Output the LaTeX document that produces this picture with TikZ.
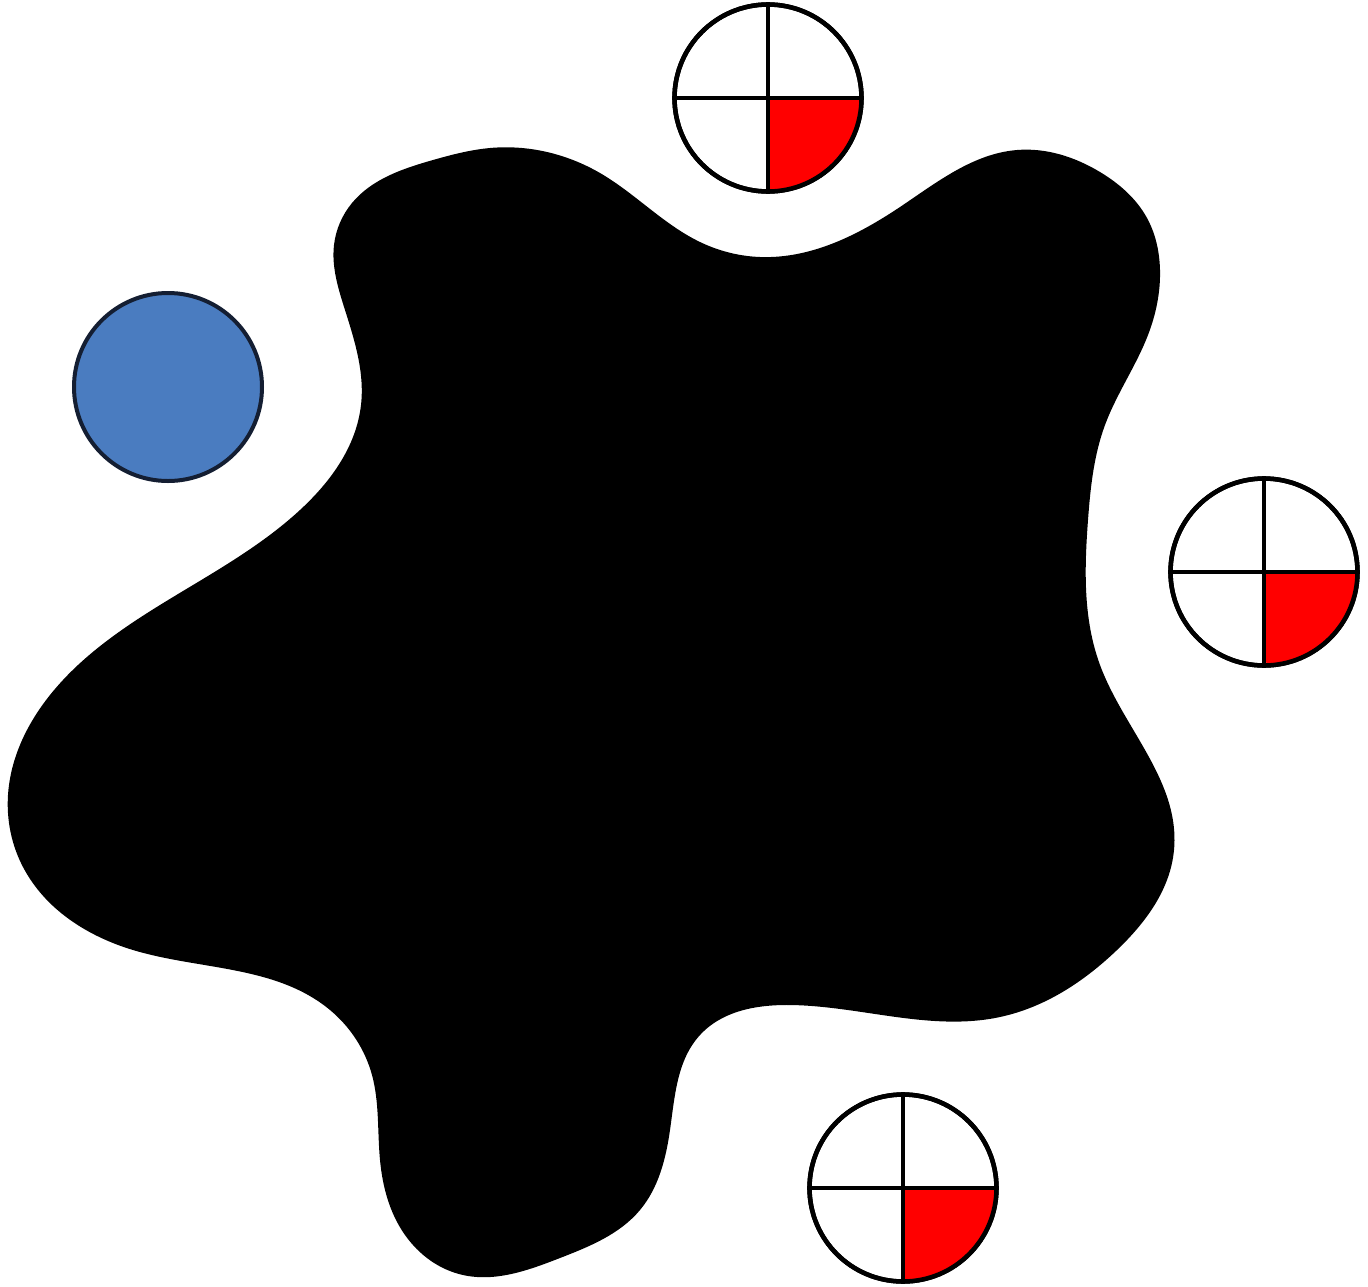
\documentclass[tikz,border=0pt]{standalone}
\usepackage{tikz}
\usetikzlibrary{hobby}
\definecolor{blobblue}{RGB}{74,124,192}
\definecolor{navyline}{RGB}{20,30,50}
\begin{document}
\begin{tikzpicture}[x=1pt,y=-1pt,
  marker/.style={circle,draw=black,line width=4.5pt,fill=white,minimum size=187pt,inner sep=0pt},
  bluedot/.style={circle,draw=navyline,line width=4pt,fill=blobblue,minimum size=188pt,inner sep=0pt}]
\useasboundingbox (0,0) rectangle (1368,1286);
% black blob
\fill[black, use Hobby shortcut, closed=true]
 (334,245) .. (352,203) .. (433,160) .. (490,148) .. (600,173) .. (700,242) .. (760,257)
 .. (900,207) .. (1017,150) .. (1100,172) .. (1147,218) .. (1160,270) .. (1148,335)
 .. (1105,425) .. (1088,520) .. (1100,665) .. (1174,850) .. (1117,950) .. (1000,1017)
 .. (790,1005) .. (700,1035) .. (670,1130) .. (640,1210) .. (560,1258) .. (463,1275)
 .. (405,1235) .. (380,1160) .. (372,1075) .. (330,1010) .. (133,950)
 .. (23,867) .. (8,795) .. (50,695) .. (160,605) .. (300,510) .. (361,405)
 .. (345,310);
% blue circle
\node[bluedot] (b) at (168,387) {};
% marker circles
\foreach \n/\x/\y in {t/768/98, r/1264/572, d/903/1188}{
  \node[marker] (\n) at (\x,\y) {};
  \fill[red] (\n.center) -- ([xshift=-2.25pt]\n.east) arc[start angle=0,end angle=-90,radius=91.25pt] -- cycle;
  \draw[line width=4pt] (\n.north) -- (\n.south);
  \draw[line width=4pt] (\n.west) -- (\n.east);
  \draw[line width=4.5pt] (\n.center) circle[radius=93.5pt];
}
\end{tikzpicture}
\end{document}
